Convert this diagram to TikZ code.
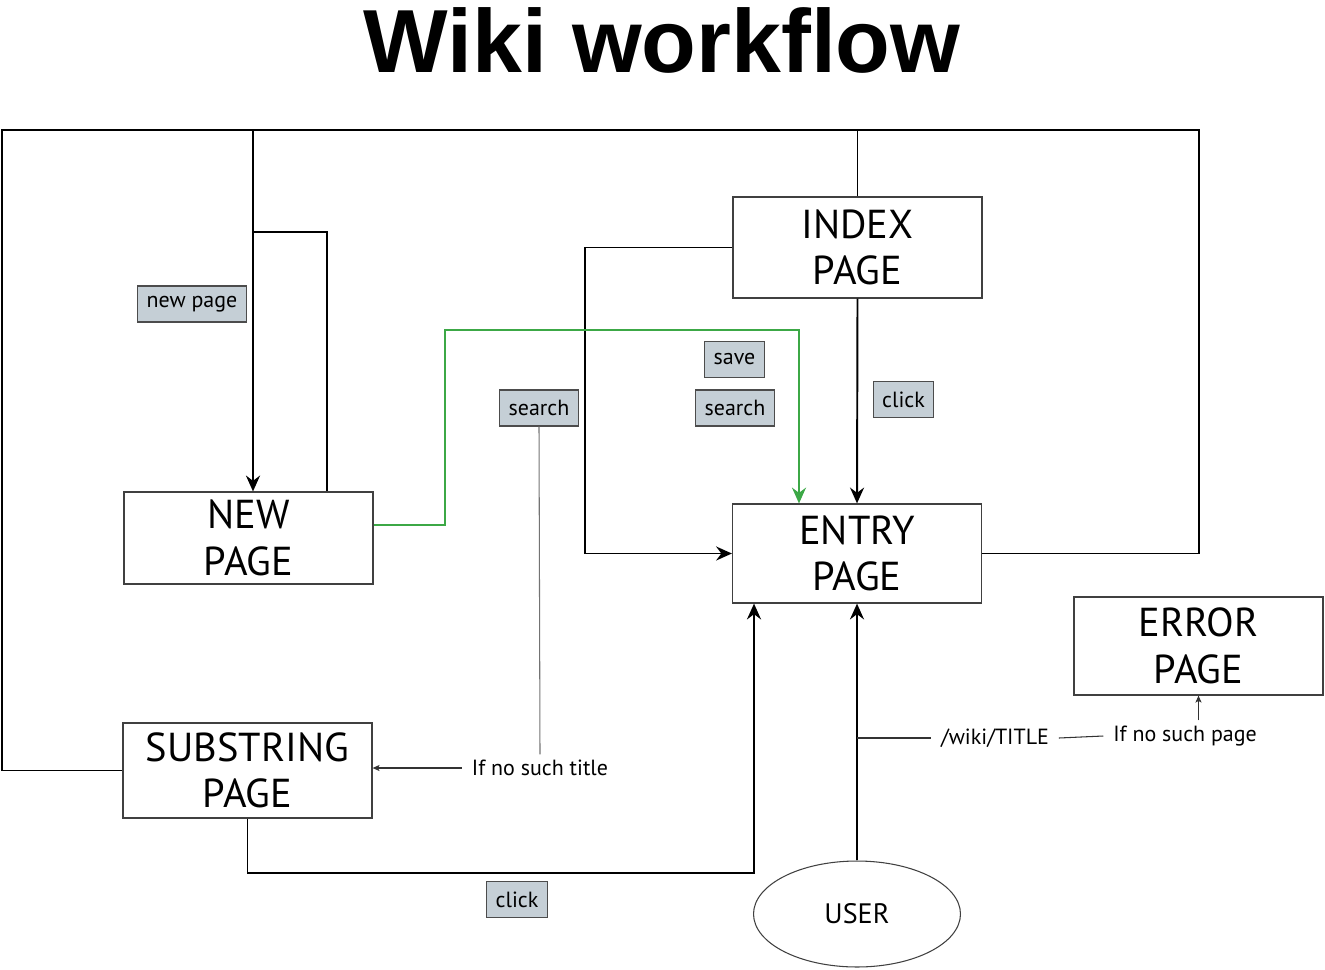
\documentclass[tikz,border=0pt]{standalone}
\usepackage{fontspec}
\setmainfont{PT Sans}
\newfontfamily\titlefont{Liberation Sans}
\usetikzlibrary{shapes.geometric,arrows.meta,positioning}
\definecolor{tagfill}{RGB}{197,207,214}
\definecolor{savegreen}{RGB}{60,168,70}
\begin{document}
\begin{tikzpicture}[x=0.02cm, y=-0.02cm,
      page/.style={draw=black!75, line width=0.7pt, align=center,
        minimum width=4.98cm, inner sep=0pt,
        font=\fontsize{23}{26.5}\selectfont},
      tag/.style={draw=black!70, line width=0.6pt, fill=tagfill,
        minimum height=0.72cm, inner xsep=5pt,
        font=\fontsize{12.5}{14}\selectfont},
      note/.style={inner xsep=5.5pt, inner ysep=3pt, font=\fontsize{12.5}{14}\selectfont},
      link/.style={line width=1.1pt},
      linkarrow/.style={link, -{Stealth[length=9pt, width=8pt, inset=3pt]}},
      hint/.style={line width=0.6pt, black!80},
      hintarrow/.style={hint, -{Stealth[length=4pt, width=3.5pt, inset=1pt]}}]
  \useasboundingbox (0,0) rectangle (1325,970);
  \node (title) at (662,40) {\titlefont\bfseries\fontsize{51}{51}\selectfont Wiki workflow};

  \node[page, minimum height=2.02cm] (index) at (857.5,247.5) {INDEX\\PAGE};
  \node[page, minimum height=1.98cm] (entry) at (857,553.5) {ENTRY\\PAGE};
  \node[page, minimum height=1.84cm] (new) at (248.5,538) {NEW\\PAGE};
  \node[page, minimum height=1.9cm] (substring) at (247.5,770.5) {SUBSTRING\\PAGE};
  \node[page, minimum height=1.96cm] (error) at (1198.5,646) {ERROR\\PAGE};
  \node[ellipse, draw=black!75, line width=0.6pt, minimum width=4.14cm,
    minimum height=2.12cm, font=\fontsize{16}{18}\selectfont] (user) at (857,914) {USER};

  \node[tag] (newtag) at (192,304) {new page};
  \node[tag] (savetag) at (734.5,359.5) {save};
  \node[tag] (searchtag) at (735,408) {search};
  \node[tag] (search) at (539,408) {search};
  \node[tag] (clicktop) at (903.5,399.5) {click};
  \node[tag] (clickbottom) at (517,899.5) {click};

  \node[note] (notitle) at (540,768) {If no such title};
  \node[note] (wiki) at (995,738) {/wiki/TITLE};
  \node[note] (nopage) at (1185,736) {If no such page};

  \coordinate (frameNW) at (2,130);
  \coordinate (frameNE) at (1199,130);
  \coordinate (newdrop) at (253,130);
  \coordinate (newbranch) at (253,232);
  \coordinate (saveturn) at (799,330);
  \coordinate (clickturn) at (754,873);
  \coordinate (userbranch) at (857,738);

  \draw[link] (entry.east) -| (frameNE) -- (frameNW) |- (substring.west);
  \draw[linkarrow] (newdrop) -- (newdrop |- new.north);
  \draw[link] (newbranch) -| (new.north -| 327,0);
  \draw[link] (index.north) -- (index.north |- frameNE);
  \draw[linkarrow] (index.west) -- ++(-147,0) |- (entry.west);
  \draw[linkarrow] (index.south) -- (entry.north);
  \draw[linkarrow, savegreen, line width=0.9pt] (new.east |- 0,525) -| (445,330) -- (saveturn) -- (saveturn |- entry.north);
  \draw[linkarrow] (substring.south) |- (clickturn) -- (clickturn |- entry.south);
  \draw[linkarrow] (user.north) -- (entry.south);

  \draw[hint, black!55] (search.south) -- (notitle.north);
  \draw[hintarrow] (notitle.west) -- (notitle.west -| substring.east);
  \draw[hint] (userbranch) -- (wiki.west);
  \draw[hint] (wiki.east) -- (nopage.west);
  \draw[hintarrow] (nopage.north -| error.south) -- (error.south);
\end{tikzpicture}
\end{document}
